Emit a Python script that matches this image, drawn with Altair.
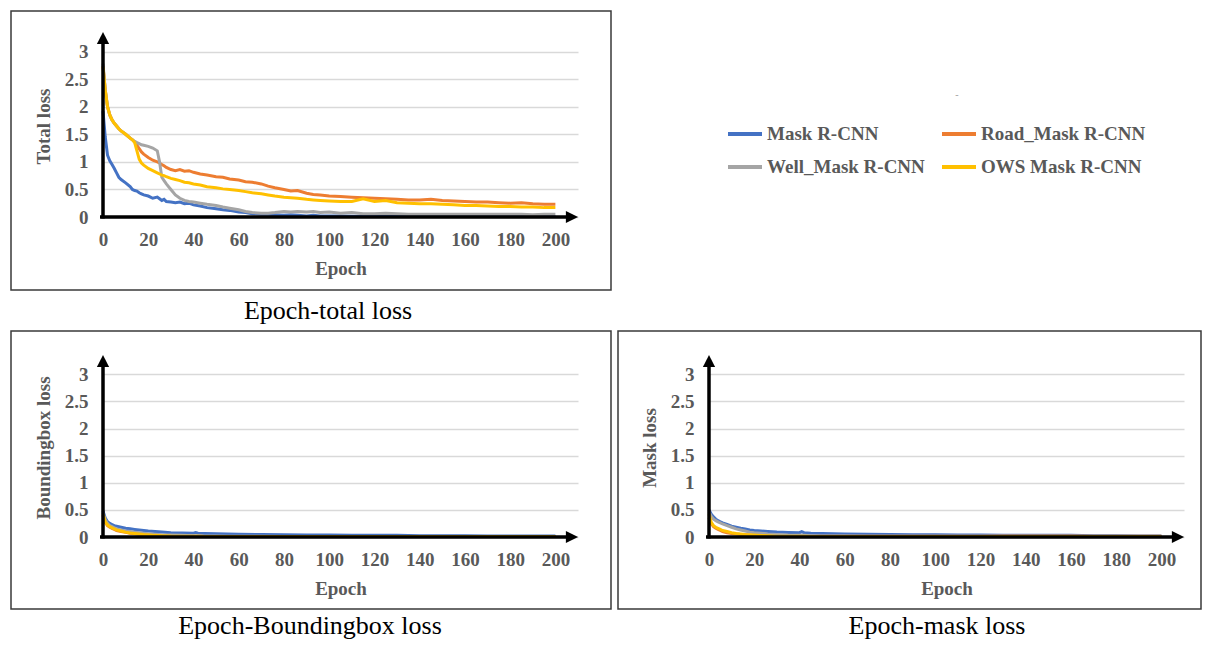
import altair as alt
import pandas as pd

SERIES = ["Mask R-CNN", "Road_Mask R-CNN", "Well_Mask R-CNN", "OWS Mask R-CNN"]
COLORS = ["#4472C4", "#ED7D31", "#A5A5A5", "#FFC000"]
LEGEND_ORDER = ["Mask R-CNN", "Well_Mask R-CNN", "Road_Mask R-CNN", "OWS Mask R-CNN"]

X_TICKS = [0, 20, 40, 60, 80, 100, 120, 140, 160, 180, 200]
Y_TICKS = [0, 0.5, 1, 1.5, 2, 2.5, 3]

# ---------------- Epoch - total loss ----------------
EPOCHS_TOTAL = [0, 1, 2, 3, 4, 5, 6, 7, 8, 10,
                12, 13, 14, 15, 16, 17, 18, 20, 22, 24,
                25, 26, 27, 28, 30, 32, 34, 36, 38, 40,
                43, 46, 50, 53, 56, 60, 63, 66, 70, 73,
                76, 80, 83, 86, 90, 93, 96, 100, 105, 110,
                115, 120, 125, 130, 135, 140, 145, 150, 155, 160,
                165, 170, 175, 180, 185, 190, 195, 200]

TOTAL_MASK = [1.92, 1.45, 1.12, 1.02, 0.95, 0.88, 0.80, 0.72, 0.68, 0.62,
              0.55, 0.50, 0.48, 0.47, 0.44, 0.42, 0.40, 0.38, 0.34, 0.36,
              0.33, 0.30, 0.32, 0.28, 0.27, 0.26, 0.27, 0.24, 0.25, 0.22,
              0.20, 0.17, 0.15, 0.13, 0.12, 0.09, 0.08, 0.06, 0.05, 0.05,
              0.04, 0.03, 0.04, 0.03, 0.02, 0.03, 0.02, 0.02, 0.02, 0.015,
              0.015, 0.01, 0.01, 0.01, 0.01, 0.01, 0.01, 0.01, 0.01, 0.01,
              0.01, 0.01, 0.01, 0.01, 0.01, 0.01, 0.01, 0.01]

TOTAL_ROAD = [2.74, 2.30, 2.00, 1.85, 1.76, 1.70, 1.65, 1.60, 1.56, 1.50,
              1.43, 1.40, 1.36, 1.30, 1.24, 1.18, 1.14, 1.08, 1.03, 1.00,
              0.98, 0.95, 0.93, 0.90, 0.86, 0.84, 0.86, 0.83, 0.84, 0.81,
              0.78, 0.76, 0.73, 0.72, 0.69, 0.67, 0.64, 0.63, 0.60, 0.56,
              0.53, 0.50, 0.47, 0.48, 0.43, 0.41, 0.40, 0.38, 0.37, 0.36,
              0.35, 0.34, 0.33, 0.32, 0.31, 0.31, 0.32, 0.30, 0.29, 0.28,
              0.27, 0.27, 0.26, 0.25, 0.26, 0.24, 0.23, 0.23]

TOTAL_WELL = [2.78, 2.30, 2.00, 1.85, 1.76, 1.70, 1.65, 1.60, 1.56, 1.50,
              1.43, 1.40, 1.37, 1.35, 1.33, 1.31, 1.30, 1.28, 1.25, 1.20,
              1.00, 0.72, 0.66, 0.60, 0.50, 0.40, 0.34, 0.30, 0.28, 0.27,
              0.25, 0.23, 0.21, 0.18, 0.16, 0.13, 0.10, 0.08, 0.07, 0.07,
              0.08, 0.10, 0.09, 0.10, 0.09, 0.10, 0.08, 0.09, 0.07, 0.08,
              0.06, 0.06, 0.07, 0.06, 0.05, 0.05, 0.05, 0.05, 0.05, 0.05,
              0.05, 0.05, 0.05, 0.05, 0.05, 0.04, 0.05, 0.05]

TOTAL_OWS = [2.72, 2.30, 2.00, 1.85, 1.76, 1.70, 1.65, 1.60, 1.56, 1.50,
             1.43, 1.40, 1.35, 1.20, 1.05, 0.98, 0.94, 0.88, 0.84, 0.80,
             0.78, 0.76, 0.75, 0.73, 0.70, 0.68, 0.66, 0.63, 0.62, 0.60,
             0.58, 0.55, 0.53, 0.51, 0.50, 0.48, 0.46, 0.44, 0.42, 0.40,
             0.38, 0.36, 0.35, 0.34, 0.32, 0.31, 0.30, 0.29, 0.28, 0.28,
             0.33, 0.28, 0.30, 0.26, 0.25, 0.24, 0.24, 0.23, 0.22, 0.21,
             0.21, 0.20, 0.19, 0.19, 0.18, 0.18, 0.17, 0.17]

# ---------------- Epoch - boundingbox / mask loss ----------------
EPOCHS_SUB = [0, 1, 2, 3, 4, 5, 6, 8, 10, 12,
              14, 16, 18, 20, 23, 26, 30, 35, 40, 41,
              42, 45, 50, 55, 60, 70, 80, 90, 100, 110,
              120, 130, 140, 150, 160, 170, 180, 190, 200]

BBOX_MASK = [0.48, 0.35, 0.28, 0.25, 0.23, 0.21, 0.20, 0.18, 0.16, 0.15,
             0.14, 0.13, 0.12, 0.11, 0.10, 0.09, 0.08, 0.075, 0.07, 0.08,
             0.07, 0.065, 0.06, 0.055, 0.05, 0.045, 0.04, 0.035, 0.035, 0.03,
             0.03, 0.03, 0.025, 0.025, 0.025, 0.02, 0.02, 0.02, 0.02]
BBOX_ROAD = [0.40, 0.27, 0.21, 0.18, 0.16, 0.14, 0.12, 0.10, 0.085, 0.07,
             0.06, 0.05, 0.045, 0.04, 0.03, 0.025, 0.02, 0.015, 0.012, 0.012,
             0.012, 0.01, 0.01, 0.01, 0.008, 0.008, 0.008, 0.008, 0.008, 0.008,
             0.008, 0.008, 0.008, 0.008, 0.008, 0.008, 0.008, 0.008, 0.008]
BBOX_WELL = [0.45, 0.32, 0.25, 0.21, 0.19, 0.17, 0.15, 0.13, 0.11, 0.10,
             0.09, 0.08, 0.07, 0.06, 0.05, 0.04, 0.035, 0.03, 0.025, 0.025,
             0.025, 0.02, 0.02, 0.015, 0.015, 0.012, 0.01, 0.01, 0.01, 0.01,
             0.01, 0.01, 0.01, 0.01, 0.01, 0.01, 0.01, 0.01, 0.01]
BBOX_OWS = [0.42, 0.28, 0.22, 0.19, 0.17, 0.15, 0.13, 0.11, 0.09, 0.075,
            0.065, 0.055, 0.045, 0.04, 0.03, 0.025, 0.018, 0.014, 0.012, 0.012,
            0.012, 0.01, 0.01, 0.01, 0.01, 0.01, 0.01, 0.01, 0.01, 0.01,
            0.01, 0.01, 0.01, 0.01, 0.01, 0.01, 0.01, 0.01, 0.01]

MASKL_MASK = [0.50, 0.42, 0.37, 0.33, 0.30, 0.28, 0.26, 0.23, 0.20, 0.18,
              0.16, 0.15, 0.13, 0.12, 0.11, 0.10, 0.09, 0.085, 0.08, 0.10,
              0.08, 0.07, 0.065, 0.06, 0.055, 0.05, 0.045, 0.04, 0.04, 0.035,
              0.035, 0.03, 0.03, 0.03, 0.03, 0.025, 0.025, 0.02, 0.02]
MASKL_ROAD = [0.36, 0.25, 0.19, 0.16, 0.14, 0.12, 0.10, 0.08, 0.065, 0.055,
              0.045, 0.04, 0.035, 0.03, 0.025, 0.02, 0.018, 0.015, 0.015, 0.015,
              0.015, 0.012, 0.012, 0.012, 0.012, 0.012, 0.012, 0.012, 0.012, 0.015,
              0.012, 0.02, 0.018, 0.02, 0.02, 0.012, 0.015, 0.012, 0.012]
MASKL_WELL = [0.46, 0.38, 0.33, 0.30, 0.28, 0.26, 0.24, 0.21, 0.18, 0.15,
              0.13, 0.11, 0.09, 0.08, 0.07, 0.055, 0.045, 0.035, 0.03, 0.03,
              0.03, 0.025, 0.02, 0.02, 0.02, 0.015, 0.015, 0.015, 0.015, 0.015,
              0.015, 0.015, 0.015, 0.015, 0.015, 0.015, 0.015, 0.015, 0.015]
MASKL_OWS = [0.42, 0.27, 0.21, 0.18, 0.16, 0.14, 0.12, 0.10, 0.08, 0.065,
             0.055, 0.045, 0.04, 0.035, 0.028, 0.022, 0.016, 0.013, 0.012, 0.012,
             0.012, 0.01, 0.01, 0.01, 0.01, 0.01, 0.01, 0.01, 0.01, 0.01,
             0.01, 0.01, 0.01, 0.01, 0.01, 0.01, 0.01, 0.01, 0.01]

FONT = "Liberation Serif"
GRAY_TXT = "#595959"
W = 475


def long_df(epochs, lists):
    rows = []
    for name, vals in zip(SERIES, lists):
        for e, v in zip(epochs, vals):
            rows.append({"epoch": e, "loss": v, "series": name})
    return pd.DataFrame(rows)


ONE = pd.DataFrame({"k": [0]})
ARROW_UP = "M0,-1L1,1L-1,1Z"
ARROW_RIGHT = "M1,0L-1,-1L-1,1Z"


def panel(df, ytitle, caption, H, frame, cap, legend=False):
    fl, fr, ft, fb = frame
    cap_x, cap_dy = cap
    x = alt.X("epoch:Q", scale=alt.Scale(domain=[0, 210], nice=False, zero=False),
              axis=alt.Axis(values=X_TICKS, title="Epoch", grid=False,
                            labelFlush=False, labelPadding=13, titlePadding=10))
    y = alt.Y("loss:Q", scale=alt.Scale(domain=[0, 3.3], nice=False),
              axis=alt.Axis(values=Y_TICKS, title=ytitle, grid=True,
                            labelExpr="'' + datum.value", labelPadding=15,
                            titlePadding=11))
    if legend:
        leg = alt.Legend(orient="none", legendX=623, legendY=80, columns=2,
                         values=LEGEND_ORDER,
                         title=None, symbolType="stroke", symbolSize=1156,
                         symbolStrokeWidth=4, labelFont=FONT, labelFontSize=19,
                         labelFontWeight="bold", labelColor=GRAY_TXT,
                         labelOffset=3, rowPadding=4, columnPadding=9,
                         padding=0, labelLimit=400)
    else:
        leg = None
    color = alt.Color("series:N", scale=alt.Scale(domain=SERIES, range=COLORS),
                      legend=leg)

    frame_rect = alt.Chart(ONE).mark_rect(
        fillOpacity=0, stroke="#3A3A3A", strokeWidth=1.5
    ).encode(x=alt.value(fl), x2=alt.value(W + fr), y=alt.value(ft),
             y2=alt.value(H + fb))

    layers = [frame_rect]
    for s in SERIES:
        layers.append(
            alt.Chart(df).transform_filter(alt.datum.series == s)
            .mark_line(strokeWidth=3)
            .encode(x=x, y=y, color=color)
        )

    y_axis_line = alt.Chart(ONE).mark_rule(color="black", strokeWidth=3.5).encode(
        x=alt.value(0), y=alt.value(H + 1.5), y2=alt.value(4))
    y_arrow = alt.Chart(ONE).mark_point(shape=ARROW_UP, filled=True, size=150,
                                        color="black", opacity=1).encode(
        x=alt.value(0), y=alt.value(3))
    x_axis_line = alt.Chart(ONE).mark_rule(color="black", strokeWidth=3.5).encode(
        x=alt.value(-3), x2=alt.value(W - 8), y=alt.value(H))
    x_arrow = alt.Chart(ONE).mark_point(shape=ARROW_RIGHT, filled=True, size=150,
                                        color="black", opacity=1).encode(
        x=alt.value(W - 6), y=alt.value(H))
    cap_text = alt.Chart(ONE).mark_text(font=FONT, fontSize=26, color="black",
                                        align="center", baseline="middle").encode(
        x=alt.value(cap_x), y=alt.value(H + cap_dy), text=alt.value(caption))
    layers += [y_axis_line, y_arrow, x_axis_line, x_arrow, cap_text]
    if legend:
        dash = alt.Chart(ONE).mark_text(font=FONT, fontSize=10, color="#A0A0A0",
                                        align="center", baseline="middle").encode(
            x=alt.value(854), y=alt.value(60), text=alt.value("-"))
        layers.append(dash)
    return alt.layer(*layers).properties(width=W, height=H)


top = panel(long_df(EPOCHS_TOTAL, [TOTAL_MASK, TOTAL_ROAD, TOTAL_WELL, TOTAL_OWS]),
            "Total loss", "Epoch-total loss", 182, (-92, 33, -24, 73), (225, 94),
            legend=True)
bl = panel(long_df(EPOCHS_SUB, [BBOX_MASK, BBOX_ROAD, BBOX_WELL, BBOX_OWS]),
           "Boundingbox loss", "Epoch-Boundingbox loss", 179, (-92, 33, -27, 72),
           (207, 89))
br = panel(long_df(EPOCHS_SUB, [MASKL_MASK, MASKL_ROAD, MASKL_WELL, MASKL_OWS]),
           "Mask loss", "Epoch-mask loss", 179, (-91, 17, -27, 72), (228, 89))

chart = alt.vconcat(
    top,
    alt.hconcat(bl, br, spacing=5),
    spacing=6,
).properties(
    padding={"left": 2, "top": 2, "right": 0, "bottom": 0}
).configure_view(stroke=None).configure_axis(
    domain=False, ticks=False,
    labelFont=FONT, labelFontSize=19, labelFontWeight="bold", labelColor=GRAY_TXT,
    titleFont=FONT, titleFontSize=19, titleFontWeight="bold", titleColor=GRAY_TXT,
    gridColor="#D9D9D9", gridWidth=1.5,
)

chart.save("out.html", embed_options={"renderer": "svg", "actions": False})
